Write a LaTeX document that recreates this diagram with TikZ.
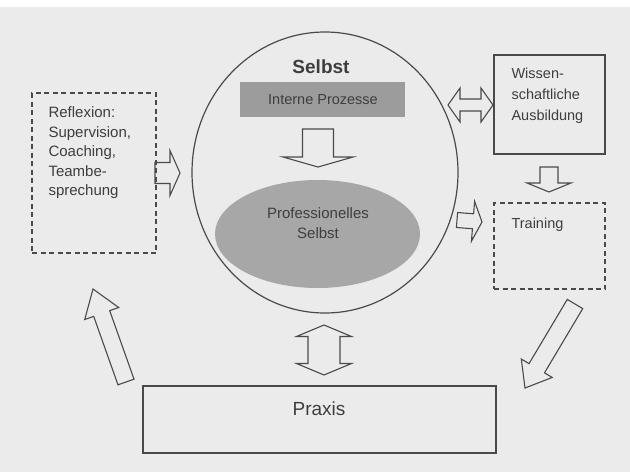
\documentclass[tikz,border=0pt]{standalone}
\usepackage{fontspec}
\setmainfont{Liberation Sans}
\usetikzlibrary{shapes.geometric,calc}
\definecolor{bgc}{HTML}{EBEBEB}
\definecolor{ink}{HTML}{4A4A4A}
\definecolor{txt}{HTML}{3E3E3E}
\definecolor{fillA}{HTML}{9C9C9C}
\definecolor{fillB}{HTML}{A7A7A7}
\newcommand\blockarrow[5]{% start, end, shaft half width, head half width, head length
  \path ($(#2)!#5!(#1)$) coordinate (bh);
  \draw[blk] ($(#1)!#3!90:(#2)$) -- ($(bh)!#3!-90:(#1)$) -- ($(bh)!#4!-90:(#1)$) -- (#2)
    -- ($(bh)!#4!90:(#1)$) -- ($(bh)!#3!90:(#1)$) -- ($(#1)!#3!-90:(#2)$) -- cycle;
}
\newcommand\dblarrow[5]{% end A, end B, shaft half width, head half width, head length
  \path ($(#1)!#5!(#2)$) coordinate (ha) ($(#2)!#5!(#1)$) coordinate (hb);
  \draw[blk] (#1) -- ($(ha)!#4!90:(#2)$) -- ($(ha)!#3!90:(#2)$) -- ($(hb)!#3!-90:(#1)$)
    -- ($(hb)!#4!-90:(#1)$) -- (#2) -- ($(hb)!#4!90:(#1)$) -- ($(hb)!#3!90:(#1)$)
    -- ($(ha)!#3!-90:(#2)$) -- ($(ha)!#4!-90:(#2)$) -- cycle;
}
\begin{document}
\begin{tikzpicture}[x=1pt,y=-1pt,
  line width=1.1pt,
  blk/.style={draw=ink, line width=1.1pt, line join=miter},
  solidbox/.style={draw=ink, line width=1.2pt, inner sep=0pt},
  dashbox/.style={draw=ink, line width=1.3pt, dash pattern=on 5pt off 3.5pt, inner sep=0pt},
  lbl/.style={text=txt, inner sep=0pt, align=left, font=\fontsize{14.5}{21}\selectfont},
]
\useasboundingbox (0,0) rectangle (630,472);
\fill[bgc] (0,7) rectangle (630,472);
\fill[white] (0,0) rectangle (630,7);

% central circle
\node[draw=ink, line width=1.2pt, ellipse, inner sep=0pt, minimum width=266pt, minimum height=281pt] (selbst) at (325,172.5) {};
\node[text=txt, inner sep=0pt, font=\bfseries\fontsize{19}{22}\selectfont] (selbsttitle) at (321,67) {Selbst};
\node[fill=fillA, inner sep=0pt, minimum width=165pt, minimum height=35pt] (intern) at (322.5,99.5) {};
\node[text=txt, inner sep=0pt, font=\fontsize{14.5}{17}\selectfont] (interntxt) at (323,100) {Interne Prozesse};
\node[fill=fillB, ellipse, inner sep=0pt, minimum width=205pt, minimum height=108pt] (prof) at (317.5,234) {};
\node[text=txt, inner sep=0pt, align=center, font=\fontsize{15}{20}\selectfont] (proftxt) at (318,223) {Professionelles\\Selbst};

% left box
\node[dashbox, minimum width=124pt, minimum height=160pt] (reflex) at (94,173) {};
\node[lbl, anchor=north west, font=\fontsize{15}{19.5}\selectfont] (reflextxt) at (48,106.5) {Reflexion:\\Supervision,\\Coaching,\\Teambe-\\sprechung};

% right boxes
\node[solidbox, minimum width=111pt, minimum height=99pt] (wiss) at (549.5,104.5) {};
\node[lbl, anchor=north west] (wisstxt) at (511,67) {Wissen-\\schaftliche\\Ausbildung};
\node[dashbox, minimum width=111pt, minimum height=86pt] (train) at (549.5,246) {};
\node[lbl, anchor=north west] (traintxt) at (511,217) {Training};

% bottom box
\node[solidbox, minimum width=353pt, minimum height=67pt] (praxis) at (319.5,419.5) {};
\node[text=txt, inner sep=0pt, font=\fontsize{19}{22}\selectfont] (praxistxt) at (319,409) {Praxis};

% arrow end points
\coordinate (r1) at (155,173);   \coordinate (r2) at (180,173);
\coordinate (w1) at (448,105);   \coordinate (w2) at (493,105);
\coordinate (i1) at (318,129);   \coordinate (i2) at (318,167);
\coordinate (t1) at (549,167);   \coordinate (t2) at (549,192);
\coordinate (c1) at (457,220);   \coordinate (c2) at (482,222);
\coordinate (p1) at (324,325);   \coordinate (p2) at (324,375);
\coordinate (l1) at (126,382);   \coordinate (l2) at (93,289);
\coordinate (d1) at (575,304);   \coordinate (d2) at (525,388);

\blockarrow{r1}{r2}{10.5pt}{22.5pt}{10pt}
\dblarrow{w1}{w2}{6pt}{17pt}{12pt}
\blockarrow{i1}{i2}{15.5pt}{35pt}{10pt}
\blockarrow{t1}{t2}{9pt}{22pt}{9pt}
\blockarrow{c1}{c2}{7.5pt}{20pt}{9pt}
\dblarrow{p1}{p2}{16pt}{27.5pt}{11.5pt}
\blockarrow{l1}{l2}{8.5pt}{18pt}{26pt}
\blockarrow{d1}{d2}{9pt}{18pt}{23pt}
\end{tikzpicture}
\end{document}
